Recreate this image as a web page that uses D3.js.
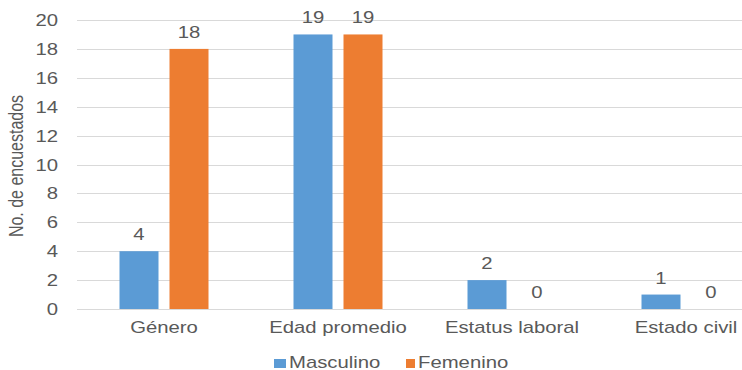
<!DOCTYPE html>
<html><head><meta charset="utf-8">
<script src="https://cdn.jsdelivr.net/npm/d3@7"></script>
<style>body{margin:0;background:#fff}svg{display:block}text{font-family:"Liberation Sans",Arial,sans-serif;fill:#595959}</style>
</head><body><svg id="c" width="742" height="370"></svg>
<script>
const categories = ["Género","Edad promedio","Estatus laboral","Estado civil"];
const seriesNames = ["Masculino","Femenino"];
const masculino = [4,19,2,1];
const femenino = [18,19,0,0];
const yTicks = [0,2,4,6,8,10,12,14,16,18,20];
const colors = ["#5B9BD5","#ED7D31"];

const FS = 16, SX = 1.27;
const svg = d3.select("#c");
const x = d3.scaleBand().domain(categories).range([77,773]).paddingInner(0).paddingOuter(0);
const xs = d3.scaleBand().domain(seriesNames).range([0,x.bandwidth()]).paddingInner(0.22).paddingOuter(0.85);
const y = d3.scaleLinear().domain([0,20]).range([309,20]);

function label(sel, tx, ty, anchor){
  return sel.attr("transform",(d,i)=>`translate(${tx(d,i)},${ty(d,i)}) scale(${SX},1)`)
    .attr("text-anchor",anchor).attr("font-size",FS);
}

svg.append("g").selectAll("line").data(yTicks).join("line")
  .attr("x1",77).attr("x2",742).attr("y1",d=>Math.round(y(d))+0.5).attr("y2",d=>Math.round(y(d))+0.5)
  .attr("stroke","#d9d9d9").attr("stroke-width",1);

label(svg.append("g").selectAll("text").data(yTicks).join("text"), ()=>58, d=>y(d)+6, "end").text(d=>d);

const data = categories.map((c,i)=>({c, vals:[masculino[i],femenino[i]]}));
const g = svg.append("g").selectAll("g").data(data).join("g").attr("transform",d=>`translate(${x(d.c)},0)`);
g.selectAll("rect").data(d=>d.vals.map((v,j)=>({v,j}))).join("rect")
  .attr("x",d=>xs(seriesNames[d.j])).attr("width",xs.bandwidth())
  .attr("y",d=>y(d.v)).attr("height",d=>y(0)-y(d.v)).attr("fill",d=>colors[d.j]);
label(g.selectAll("text").data(d=>d.vals.map((v,j)=>({v,j}))).join("text"),
  d=>xs(seriesNames[d.j])+xs.bandwidth()/2, d=>y(d.v)-11, "middle").text(d=>d.v);

label(svg.append("g").selectAll("text").data(categories).join("text"),
  d=>x(d)+x.bandwidth()/2, ()=>333, "middle").text(d=>d);

svg.append("text").attr("transform",`translate(23,166) scale(${SX},1) rotate(-90)`).attr("text-anchor","middle")
  .attr("font-size",FS).text("No. de encuestados");

const legX = [274,406];
const legW = [12,9];
const lg = svg.append("g").selectAll("g").data(seriesNames).join("g").attr("transform",(d,i)=>`translate(${legX[i]},0)`);
lg.append("rect").attr("x",0).attr("y",359).attr("width",(d,i)=>legW[i]).attr("height",9).attr("fill",(d,i)=>colors[i]);
label(lg.append("text"), (d,i)=>legW[i]+3, ()=>368, "start").text(d=>d);
</script></body></html>
